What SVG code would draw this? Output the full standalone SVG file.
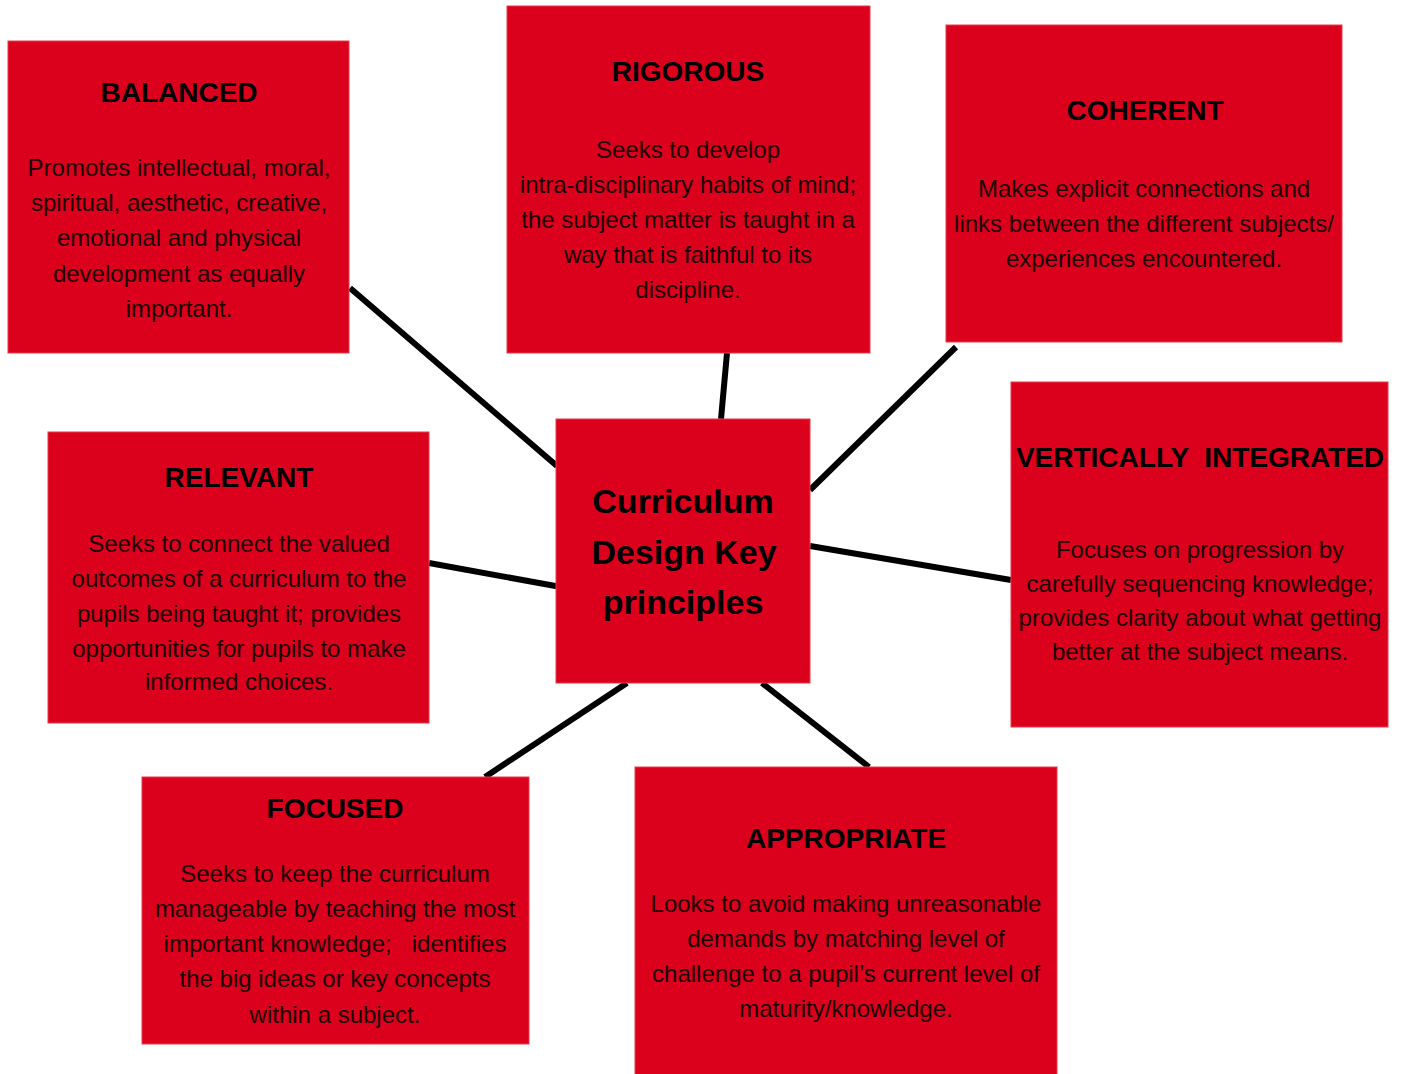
<svg xmlns="http://www.w3.org/2000/svg" width="1401" height="1074" viewBox="0 0 1401 1074">
<style>
.box{fill:#DB001C;stroke:#E63A48;stroke-width:1}
.t{font-family:"Liberation Sans",Arial,sans-serif;font-weight:bold;font-size:28px;fill:#000;text-anchor:middle}
.b{font-family:"Liberation Sans",Arial,sans-serif;font-size:24px;fill:#1a0000;text-anchor:middle;white-space:pre}
.c{font-family:"Liberation Sans",Arial,sans-serif;font-weight:bold;font-size:34px;fill:#000;text-anchor:middle}
.ln{stroke:#000;stroke-width:6;fill:none}
</style>
<rect width="1401" height="1074" fill="#fff"/>
<g id="connectors">
<line class="ln" x1="350" y1="288" x2="557" y2="466"/>
<line class="ln" x1="727" y1="353" x2="721" y2="419"/>
<line class="ln" x1="956" y1="347" x2="810" y2="490"/>
<line class="ln" x1="429" y1="563" x2="561" y2="587"/>
<line class="ln" x1="810" y1="546" x2="1011" y2="580"/>
<line class="ln" x1="485" y1="777" x2="627" y2="683"/>
<line class="ln" x1="762" y1="683" x2="869" y2="767"/>
</g>
<g id="balanced">
<rect class="box" x="8" y="41" width="341" height="312"/>
<text class="t" x="179" y="102">BALANCED</text>
<text class="b" x="179" y="176">Promotes intellectual, moral,</text>
<text class="b" x="179" y="211">spiritual, aesthetic, creative,</text>
<text class="b" x="179" y="246">emotional and physical</text>
<text class="b" x="179" y="282">development as equally</text>
<text class="b" x="179" y="317">important.</text>
</g>
<g id="rigorous">
<rect class="box" x="507" y="6" width="363" height="347"/>
<text class="t" x="688" y="81">RIGOROUS</text>
<text class="b" x="688" y="158">Seeks to develop</text>
<text class="b" x="688" y="193">intra-disciplinary habits of mind;</text>
<text class="b" x="688" y="228">the subject matter is taught in a</text>
<text class="b" x="688" y="263">way that is faithful to its</text>
<text class="b" x="688" y="298">discipline.</text>
</g>
<g id="coherent">
<rect class="box" x="946" y="25" width="396" height="317"/>
<text class="t" x="1145" y="120">COHERENT</text>
<text class="b" x="1144" y="197">Makes explicit connections and</text>
<text class="b" x="1144" y="232">links between the different subjects/</text>
<text class="b" x="1144" y="267">experiences encountered.</text>
</g>
<g id="center">
<rect class="box" x="556" y="419" width="254" height="264"/>
<text class="c" x="683" y="513">Curriculum</text>
<text class="c" x="684" y="564">Design Key</text>
<text class="c" x="683" y="614">principles</text>
</g>
<g id="vertically-integrated">
<rect class="box" x="1011" y="382" width="377" height="345"/>
<text class="t" x="1200" y="467" style="white-space:pre">VERTICALLY  INTEGRATED</text>
<text class="b" x="1200" y="558">Focuses on progression by</text>
<text class="b" x="1200" y="592">carefully sequencing knowledge;</text>
<text class="b" x="1200" y="626">provides clarity about what getting</text>
<text class="b" x="1200" y="660">better at the subject means.</text>
</g>
<g id="relevant">
<rect class="box" x="48" y="432" width="381" height="291"/>
<text class="t" x="239" y="487">RELEVANT</text>
<text class="b" x="239" y="552">Seeks to connect the valued</text>
<text class="b" x="239" y="587">outcomes of a curriculum to the</text>
<text class="b" x="239" y="622">pupils being taught it; provides</text>
<text class="b" x="239" y="657">opportunities for pupils to make</text>
<text class="b" x="239" y="690">informed choices.</text>
</g>
<g id="focused">
<rect class="box" x="142" y="777" width="387" height="267"/>
<text class="t" x="335" y="818">FOCUSED</text>
<text class="b" x="335" y="882">Seeks to keep the curriculum</text>
<text class="b" x="335" y="917">manageable by teaching the most</text>
<text class="b" x="335" y="952">important knowledge;   identifies</text>
<text class="b" x="335" y="987">the big ideas or key concepts</text>
<text class="b" x="335" y="1023">within a subject.</text>
</g>
<g id="appropriate">
<rect class="box" x="635" y="767" width="422" height="320"/>
<text class="t" x="846" y="848">APPROPRIATE</text>
<text class="b" x="846" y="912">Looks to avoid making unreasonable</text>
<text class="b" x="846" y="947">demands by matching level of</text>
<text class="b" x="846" y="982">challenge to a pupil’s current level of</text>
<text class="b" x="846" y="1017">maturity/knowledge.</text>
</g>
</svg>
